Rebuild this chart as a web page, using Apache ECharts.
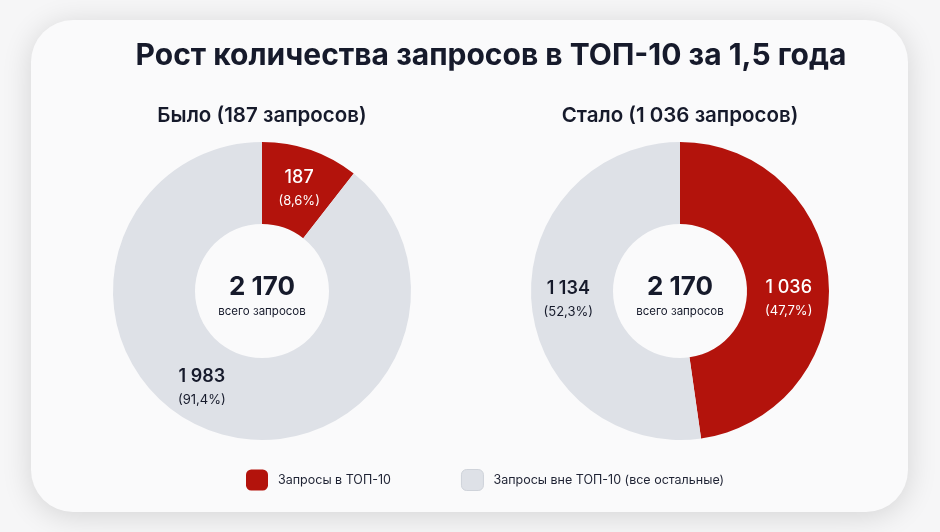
<!DOCTYPE html>
<html><head><meta charset="utf-8">
<script src="https://cdn.jsdelivr.net/npm/echarts@6/dist/echarts.min.js"></script>
<style>html,body{margin:0;padding:0;background:#f6f6f7;}#c{width:940px;height:532px;}</style>
</head><body><div id="c"></div>
<script>
const mainTitle = 'Рост количества запросов в ТОП-10 за 1,5 года';
const categories = ['Запросы в ТОП-10', 'Запросы вне ТОП-10 (все остальные)'];
const beforeTitle = 'Было (187 запросов)';
const afterTitle = 'Стало (1 036 запросов)';
const beforeValues = [187, 1983];
const afterValues = [1036, 1134];
const beforePercents = ['8,6%', '91,4%'];
const afterPercents = ['47,7%', '52,3%'];
const totalLabel = '2 170';
const totalCaption = 'всего запросов';

const RED = '#b3130c', GRAY = '#dee1e7', DARK = '#161a2b';
const FONT = 'Inter, "Noto Sans", sans-serif';
function fmtN(n){ return n >= 1000 ? String(n).replace(/\B(?=(\d{3})+(?!\d))/g, ' ') : String(n); }

function mkData(vals, pcts, offsets){
  return vals.map((v,i)=>({
    value: v, name: categories[i],
    itemStyle: {color: i===0 ? RED : GRAY},
    label: {
      offset: offsets[i],
      formatter: '{' + (i===0?'a':'b') + '|' + fmtN(v) + '}\n{' + (i===0?'ap':'bp') + '|(' + pcts[i] + ')}'
    }
  }));
}
const rich = {
  a: {color:'#fff', fontSize:18, fontWeight:500, fontFamily:FONT, lineHeight:25},
  ap:{color:'#fff', fontSize:13, fontWeight:400, fontFamily:FONT, lineHeight:22},
  b: {color:DARK, fontSize:18, fontWeight:600, fontFamily:FONT, lineHeight:25},
  bp:{color:DARK, fontSize:13, fontWeight:400, fontFamily:FONT, lineHeight:22}
};
const C1 = [262, 291], C2 = [680, 291];
function pie(center, vals, pcts, offsets, minAngle){
  return {
    type:'pie', center:center, radius:[67,149], startAngle:90, clockwise:true,
    silent:true, avoidLabelOverlap:false, minAngle:minAngle,
    label:{show:true, position:'inside', rich:rich},
    labelLine:{show:false},
    data: mkData(vals, pcts, offsets)
  };
}
function ctext(x, y, text, size, weight){
  return {type:'text', x:x, y:y, style:{text:text, fill:DARK, font: weight+' '+size+'px '+FONT, textAlign:'center', textVerticalAlign:'middle'}};
}
const chart = echarts.init(document.getElementById('c'));
chart.setOption({
  backgroundColor:'#f6f6f7',
  animation:false,
  graphic:[
    {type:'rect', shape:{x:31,y:20,width:877,height:492,r:42}, style:{fill:'#fafafb', shadowBlur:30, shadowColor:'rgba(0,0,0,0.14)', shadowOffsetY:4}, z:-10},
    ctext(491, 56, mainTitle, 30, 700),
    ctext(C1[0], 116, beforeTitle, 20.5, 600),
    ctext(C2[0], 116, afterTitle, 20.5, 600),
    ctext(C1[0], 287, totalLabel, 26, 700),
    ctext(C1[0], 312, totalCaption, 11.5, 400),
    ctext(C2[0], 287, totalLabel, 26, 700),
    ctext(C2[0], 312, totalCaption, 11.5, 400)
  ],
  legend:{
    left:246, top:469, padding:0, itemWidth:22, itemHeight:21, itemGap:70, icon:'roundRect',
    textStyle:{color:'#1e2233', fontSize:12.5, fontFamily:FONT, padding:[0,0,0,5]},
    data:[{name:categories[0], itemStyle:{color:RED}}, {name:categories[1], itemStyle:{color:GRAY, borderColor:'#cfd3da', borderWidth:1}}],
    selectedMode:false
  },
  series:[
    pie(C1, beforeValues, beforePercents, [[1,3],[-24,-8]], 38),
    pie(C2, afterValues, afterPercents, [[-2,15],[-1,1]], 0)
  ]
});
</script></body></html>
